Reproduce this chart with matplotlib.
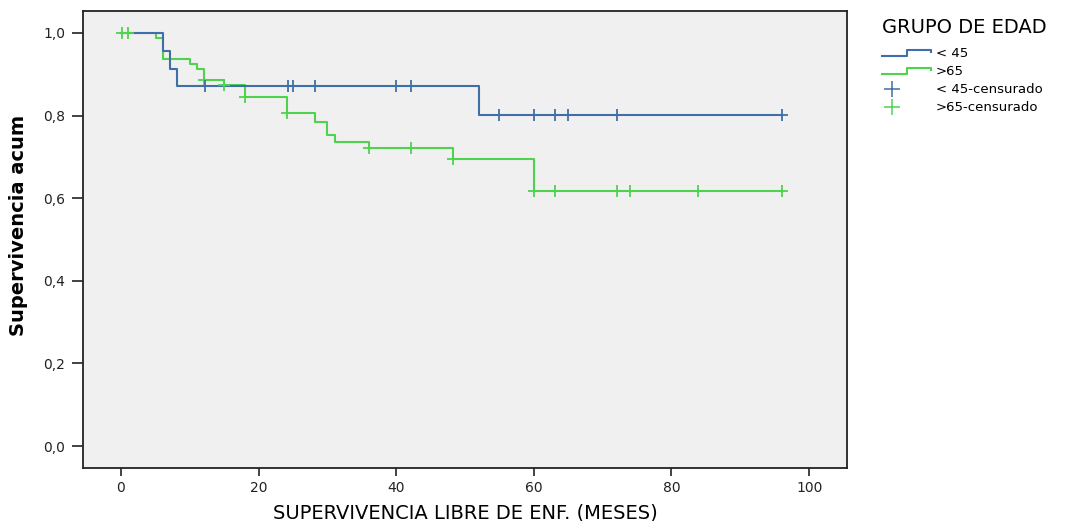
import numpy as np
import matplotlib
matplotlib.use("Agg")
import matplotlib.pyplot as plt
from matplotlib.lines import Line2D
from matplotlib.legend_handler import HandlerBase

# Curvas Kaplan-Meier
t_45 = [0, 6.1, 7.1, 8.1, 52.1, 96.0]
s_45 = [1.0, 0.956, 0.913, 0.872, 0.801, 0.801]
cens_45 = [12.2, 24.3, 25.0, 28.2, 40.0, 42.1, 55.0, 60.0, 63.1, 65.0, 72.1, 96.0]

t_65 = [0, 5.1, 6.15, 10.0, 11.0, 12.1, 15.0, 18.1, 24.2, 28.2, 30.0, 31.1, 36.1, 48.2, 60.0, 96.0]
s_65 = [1.0, 0.988, 0.936, 0.924, 0.912, 0.887, 0.874, 0.846, 0.806, 0.785, 0.752, 0.737, 0.721, 0.695, 0.618, 0.618]
cens_65 = [0.1, 1.1, 12.1, 15.0, 18.1, 24.2, 36.1, 42.1, 48.2, 60.0, 63.1, 72.1, 73.9, 83.9, 96.0]

x_ticks = [0, 20, 40, 60, 80, 100]
y_ticks = [0.0, 0.2, 0.4, 0.6, 0.8, 1.0]
y_labels = ["0,0", "0,2", "0,4", "0,6", "0,8", "1,0"]

labels = ["< 45", ">65", "< 45-censurado", ">65-censurado"]
c_blue = "#3f6fa6"
c_green = "#4fd34f"


def surv_at(times, surv, tc):
    idx = np.searchsorted(times, tc, side="right") - 1
    return np.array(surv)[idx]


class HandlerStep(HandlerBase):
    def create_artists(self, legend, orig_handle, xdescent, ydescent, width, height, fontsize, trans):
        xs = np.array([0, 0.52, 0.52, 1.0, 1.0]) * width - xdescent
        ys = np.array([0.1, 0.1, 0.75, 0.75, 0.5]) * height - ydescent
        ln = Line2D(xs, ys, color=orig_handle.get_color(), lw=orig_handle.get_linewidth())
        ln.set_transform(trans)
        return [ln]


class HandlerCross(HandlerBase):
    def create_artists(self, legend, orig_handle, xdescent, ydescent, width, height, fontsize, trans):
        ln = Line2D([0.21 * width - xdescent], [0.45 * height - ydescent], ls="none",
                    marker="+", color=orig_handle.get_color(), markersize=11, mew=1.1)
        ln.set_transform(trans)
        return [ln]


fig = plt.figure(figsize=(10.87, 5.21), dpi=100)
ax = fig.add_axes([83 / 1087, 1 - 467.7 / 521, (847 - 83) / 1087, (467.7 - 11) / 521])
ax.set_facecolor("#f0f0f0")

l65, = ax.step(t_65, s_65, where="post", color=c_green, lw=1.5)
l45, = ax.step(t_45, s_45, where="post", color=c_blue, lw=1.5)
m65, = ax.plot(cens_65, surv_at(t_65, s_65, cens_65), ls="none", marker="+",
               color=c_green, markersize=9, mew=1.3)
m45, = ax.plot(cens_45, surv_at(t_45, s_45, cens_45), ls="none", marker="+",
               color=c_blue, markersize=9, mew=1.3)

ax.set_xlim(-5.5, 105.5)
ax.set_ylim(-0.0525, 1.053)
ax.set_xticks(x_ticks)
ax.set_xticklabels([str(v) for v in x_ticks])
ax.set_yticks(y_ticks)
ax.set_yticklabels(y_labels)
ax.tick_params(axis="x", length=5.8, width=1.2, pad=4, labelsize=10, colors="#222222")
ax.tick_params(axis="y", length=8, width=1.2, pad=5, labelsize=10, colors="#222222")
for sp in ax.spines.values():
    sp.set_linewidth(1.3)
    sp.set_color("#222222")

ax.set_xlabel("SUPERVIVENCIA LIBRE DE ENF. (MESES)", fontsize=14, labelpad=6)
ax.set_ylabel("Supervivencia acum", fontsize=14, fontweight="bold", labelpad=10)
ax.yaxis.set_label_coords(-0.072, 0.53)

leg = ax.legend([l45, l65, m45, m65], labels,
                handler_map={l45: HandlerStep(), l65: HandlerStep(),
                             m45: HandlerCross(), m65: HandlerCross()},
                loc="upper left", bbox_to_anchor=(882 / 1087, 1 - 18 / 521),
                bbox_transform=fig.transFigure, frameon=False, fontsize=9.5,
                title="GRUPO DE EDAD", title_fontsize=14, alignment="left",
                handlelength=3.7, handletextpad=0.4, labelspacing=0.38,
                borderpad=0, borderaxespad=0)
leg._legend_box.sep = 7

fig.savefig("out.png", dpi=100)
